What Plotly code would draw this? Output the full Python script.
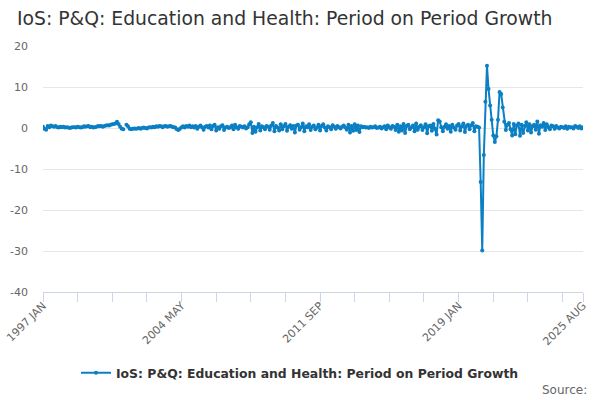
import plotly.graph_objects as go

# month categories 1997 JAN .. 2025 AUG
years = list(range(1997, 2026))
months = ["JAN", "FEB", "MAR", "APR", "MAY", "JUN", "JUL", "AUG", "SEP", "OCT", "NOV", "DEC"]
categories = [f"{y} {m}" for y in years for m in months][:344]

# period on period growth (%)
g1997 = [0.3, -0.2, -0.4, 0.5, 0.2, 0.6, 0.4, 0.3, 0.5, 0.2, 0.1, 0.3]
g1998 = [0.2, 0.3, 0.1, 0.2, 0.1, 0.0, 0.1, 0.2, 0.2, 0.1, 0.3, 0.2]
g1999 = [0.1, 0.2, 0.4, 0.3, 0.4, 0.5, 0.2, 0.3, 0.1, 0.2, 0.3, 0.5]
g2000 = [0.4, 0.5, 0.3, 0.5, 0.6, 0.7, 0.6, 0.8, 0.9, 1.0, 1.1, 1.5]
g2001 = [1.0, 0.3, -0.2, -0.3, None, 0.8, 0.4, -0.2, -0.3, -0.2, -0.1, -0.2]
g2002 = [-0.1, 0.0, -0.2, 0.0, 0.1, 0.0, -0.1, 0.1, 0.2, 0.1, 0.3, 0.2]
g2003 = [0.4, 0.3, 0.5, 0.4, 0.2, 0.4, 0.5, 0.3, 0.4, 0.5, 0.3, 0.2]
g2004 = [0.1, -0.3, -0.5, -0.2, 0.2, 0.4, 0.1, 0.5, 0.3, 0.6, 0.2, 0.4]
g2005 = [0.1, 0.5, -0.2, 0.3, 0.6, 0.2, -0.4, 0.3, 0.5, 0.1, 0.6, -0.3]
g2006 = [0.5, 0.8, -0.6, 0.2, -0.2, 0.4, 0.7, -0.5, 0.1, 0.3, 0.0, 0.2]
g2007 = [0.6, -0.3, 0.8, 0.2, -0.2, 0.5, 0.3, 0.1, 0.4, -0.1, 0.2, 0.9]
g2008 = [1.4, -1.2, 0.3, -0.9, 0.2, 1.0, -0.6, 0.4, 0.2, -0.3, 0.5, 0.3]
g2009 = [-0.4, 0.6, 1.2, -0.8, 0.5, 0.1, -0.6, 0.9, -0.3, 0.4, 1.0, -0.7]
g2010 = [0.3, 0.7, -0.2, 0.5, -1.1, 0.6, 0.8, -0.4, 0.2, 1.1, -0.8, 0.4]
g2011 = [0.2, 0.9, -0.5, 0.3, 0.6, -0.3, 0.1, 0.8, -0.6, 0.5, 0.9, 0.1]
g2012 = [-0.6, 0.4, 0.2, -0.3, 0.7, 0.3, -0.2, 0.5, 0.2, -0.1, 0.3, 0.6]
g2013 = [0.1, -0.4, 0.8, -1.1, 0.5, -0.7, 0.9, -0.5, 0.6, -1.0, 0.4, 0.2]
g2014 = [0.3, 0.1, 0.2, 0.0, 0.3, 0.1, 0.2, 0.4, 0.0, 0.1, 0.3, -0.1]
g2015 = [0.2, 0.4, -0.3, 0.6, 0.2, -0.2, 0.5, 0.3, -0.5, 0.8, -0.9, 0.4]
g2016 = [-0.6, 1.0, -1.2, 0.5, 0.8, -0.3, 0.2, 0.6, -0.8, 1.1, -0.4, 0.3]
g2017 = [0.7, -0.5, 0.2, 0.9, -1.3, 0.4, 0.6, -0.7, 1.0, -0.2, -1.6, 1.9]
g2018 = [1.6, 0.2, -0.8, 0.3, 0.9, -0.2, 0.5, -0.9, 0.8, 0.1, -0.4, 0.6]
g2019 = [1.0, -0.6, 0.4, 1.1, -1.0, 0.5, 0.8, -0.3, 0.7, 1.2, -0.8, 0.4]
g2020 = [0.3, 0.1, -13.2, -29.9, -6.6, 6.4, 15.2, 9.5, 5.5, 2.0, -1.8, -3.4]
g2021 = [-2.0, 2.0, 8.8, 8.3, 5.0, 1.5, -0.5, 0.8, 1.2, -0.3, -1.8, 1.0]
g2022 = [-1.5, 0.6, 1.1, -1.9, 0.8, -1.2, 0.5, 1.4, -0.6, 0.9, -1.1, 0.4]
g2023 = [0.8, -0.4, 1.6, -1.4, 0.7, 0.3, 1.2, -0.5, 0.9, 0.2, -0.3, 0.6]
g2024 = [0.4, -0.2, 0.5, 0.1, -0.1, 0.3, 0.2, 0.0, 0.4, -0.2, 0.3, 0.1]
g2025 = [0.2, -0.1, 0.5, 0.3, 0.0, 0.4, -0.1, 0.2]

growth = (g1997 + g1998 + g1999 + g2000 + g2001 + g2002 + g2003 + g2004 + g2005 + g2006
          + g2007 + g2008 + g2009 + g2010 + g2011 + g2012 + g2013 + g2014 + g2015 + g2016
          + g2017 + g2018 + g2019 + g2020 + g2021 + g2022 + g2023 + g2024 + g2025)

series_name = "IoS: P&Q: Education and Health: Period on Period Growth"
labelled = ["1997 JAN", "2004 MAY", "2011 SEP", "2019 JAN", "2025 AUG"]
tick_cats = categories[::22] + [categories[-1]]
tick_text = [c if c in labelled else "" for c in tick_cats]
y_ticks = [-40, -30, -20, -10, 0, 10, 20]
y_tick_text = ["-40", "-30", "-20", "-10", "0", "10", "20"]

fig = go.Figure()
fig.add_trace(go.Scatter(x=categories, y=growth, name=series_name, mode="lines+markers",
                         line=dict(color="#0b7fc3", width=2),
                         marker=dict(color="#0b7fc3", size=4)))

fig.update_layout(
    width=600, height=400,
    margin=dict(l=43, r=17, t=46, b=108, autoexpand=False),
    paper_bgcolor="white", plot_bgcolor="white",
    font=dict(family="DejaVu Sans", color="#666666"),
    title=dict(text=series_name, x=17 / 600, xanchor="left", y=1 - 18 / 400, yanchor="middle",
               xref="container", yref="container",
               font=dict(size=18.8, color="#333333")),
    showlegend=True,
    legend=dict(orientation="h", xref="container", x=0.5, xanchor="center",
                y=-0.33, yanchor="middle",
                font=dict(size=12.4, color="#333333", weight="bold")),
    annotations=[dict(text="Source:", xref="paper", yref="paper", x=1.0105, y=-0.398,
                      xanchor="right", yanchor="middle", showarrow=False,
                      font=dict(size=12, color="#666666"))],
)
fig.update_xaxes(type="category", tickmode="array", tickvals=tick_cats, ticktext=tick_text,
                 tickangle=-45, ticks="outside", ticklen=9, tickcolor="#ccd6eb",
                 ticklabelstandoff=-7,
                 showline=True, linecolor="#ccd6eb", showgrid=False, automargin=False,
                 range=[0, len(categories) - 1], tickfont=dict(size=11, color="#666666"))
fig.update_yaxes(range=[-40, 20], tickmode="array", tickvals=y_ticks, ticktext=y_tick_text,
                 showgrid=True, gridcolor="#e6e6e6",
                 zeroline=False, ticks="", ticklabelstandoff=14, automargin=False,
                 tickfont=dict(size=11, color="#666666"))

# page has a default 8px body margin; drop it so the figure sits at the top-left
fig.write_html("out.html", config={"displayModeBar": False},
               post_script="document.body.style.margin='0';")
